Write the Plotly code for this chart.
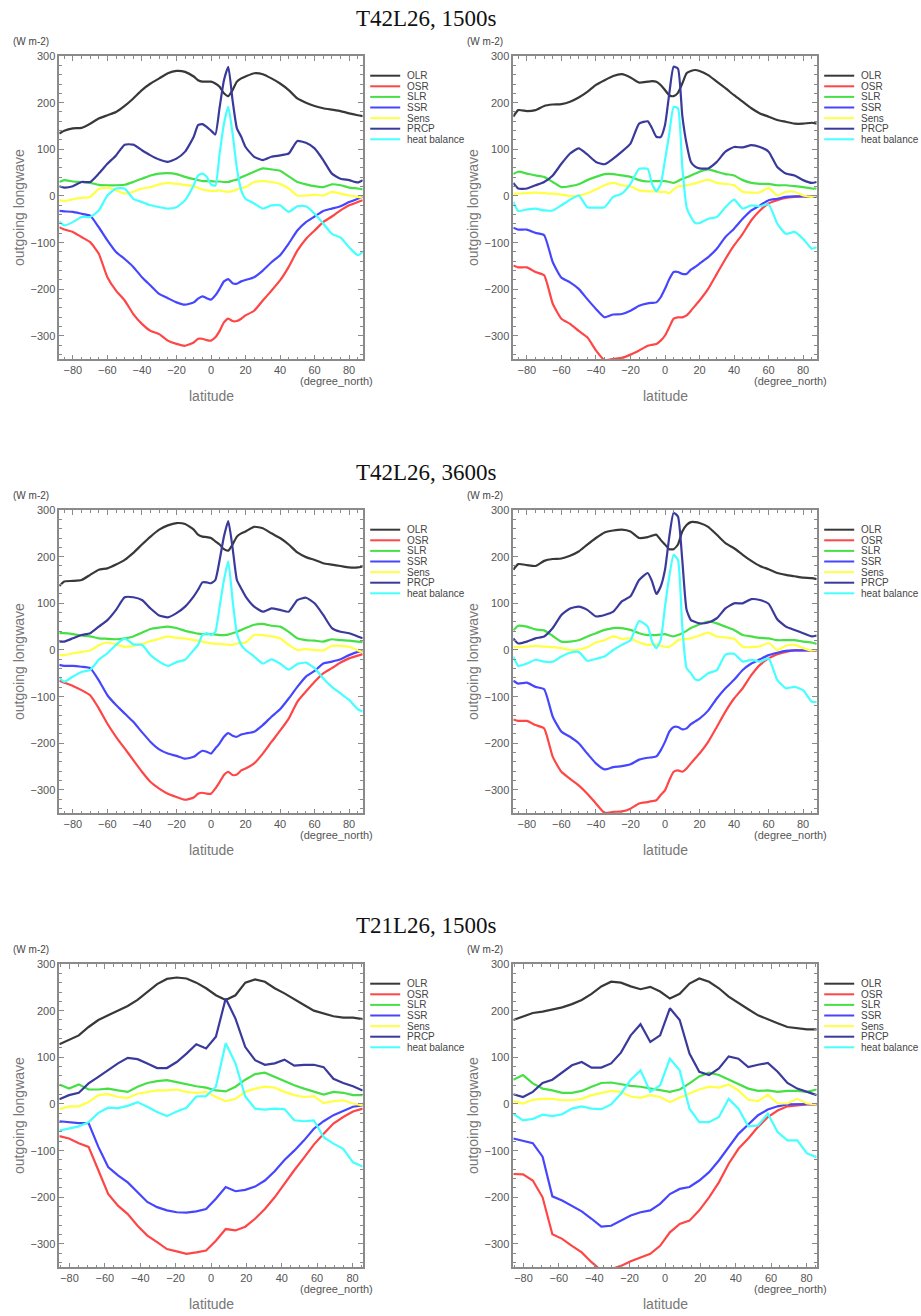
import plotly.graph_objects as go

# Latitude grids (degree_north)
lat_t42 = [-87.86, -85, -80, -75, -70, -65, -60, -55, -50, -45, -40, -35, -30, -25, -20,
           -15, -10, -7.5, -5, -2.5, 0, 2.5, 5, 7.5, 10, 12.5, 15, 17.5, 20, 25, 30, 35,
           40, 45, 50, 55, 60, 65, 70, 75, 80, 85, 87.86]
lat_t21 = [-85.76, -80.27, -74.74, -69.21, -63.68, -58.14, -52.61, -47.07, -41.53, -36.00,
           -30.46, -24.92, -19.38, -13.84, -8.31, -2.77, 2.77, 8.31, 13.84, 19.38, 24.92,
           30.46, 36.00, 41.53, 47.07, 52.61, 58.14, 63.68, 69.21, 74.74, 80.27, 85.76]

# ---- T42L26, 1500s (left) ----
olr_1 = [134, 140, 145, 146, 155, 166, 173, 180, 193, 209, 227, 241, 252, 263, 268, 266, 256, 248, 245, 245, 245, 241, 234, 220, 214, 227, 245, 252, 256, 263, 261, 252, 241, 227, 209, 200, 193, 188, 185, 182, 177, 173, 171]
osr_1 = [-67, -72, -77, -88, -99, -124, -174, -203, -224, -253, -274, -289, -296, -310, -317, -321, -314, -306, -306, -309, -310, -303, -289, -271, -263, -268, -268, -263, -256, -246, -224, -203, -181, -152, -117, -92, -74, -56, -44, -31, -20, -13, -9]
slr_1 = [30, 34, 31, 30, 28, 24, 23, 23, 24, 30, 37, 44, 48, 49, 47, 41, 36, 34, 32, 32, 32, 31, 31, 30, 30, 33, 35, 40, 44, 52, 59, 57, 54, 42, 30, 25, 21, 19, 25, 23, 18, 16, 14]
ssr_1 = [-32, -33, -34, -38, -42, -67, -95, -120, -135, -152, -174, -192, -210, -219, -228, -233, -228, -220, -215, -219, -222, -213, -199, -183, -178, -187, -188, -183, -180, -174, -160, -142, -127, -102, -74, -56, -44, -32, -27, -22, -13, -6, -2]
sens_1 = [-8, -11, -7, -4, -2, 15, 18, 12, 5, 9, 16, 19, 25, 28, 26, 24, 21, 17, 14, 12, 11, 11, 12, 10, 9, 11, 14, 17, 19, 30, 32, 30, 26, 16, 1, 1, 3, 1, 9, 5, 1, -2, -4]
prcp_1 = [21, 18, 21, 30, 30, 48, 69, 87, 110, 110, 98, 87, 78, 73, 80, 95, 127, 152, 154, 148, 140, 132, 190, 248, 277, 205, 145, 127, 105, 84, 77, 84, 87, 91, 118, 114, 102, 77, 48, 37, 34, 29, 34]
heat_1 = [-54, -63, -56, -45, -45, -31, 1, 16, 16, -6, -13, -20, -24, -27, -24, -9, 23, 44, 48, 41, 25, 22, 91, 155, 191, 134, 59, 12, -6, -16, -27, -20, -20, -34, -22, -22, -38, -59, -81, -89, -110, -127, -120]

# ---- T42L26, 1500s (right) ----
olr_2 = [170, 184, 182, 184, 193, 196, 197, 202, 211, 223, 238, 248, 257, 261, 254, 243, 245, 246, 245, 238, 227, 216, 214, 221, 241, 263, 268, 270, 268, 259, 245, 231, 216, 202, 188, 177, 170, 163, 159, 155, 155, 157, 155]
osr_2 = [-149, -153, -153, -163, -170, -231, -263, -274, -289, -303, -331, -352, -349, -347, -340, -331, -321, -319, -317, -310, -299, -281, -263, -260, -260, -256, -246, -235, -224, -199, -167, -135, -106, -81, -52, -31, -16, -9, -4, -2, -1, -1, -1]
slr_2 = [47, 52, 48, 44, 41, 30, 19, 21, 25, 34, 41, 47, 47, 44, 41, 34, 31, 32, 32, 32, 32, 30, 28, 32, 37, 40, 44, 48, 52, 57, 52, 47, 44, 34, 28, 26, 26, 23, 23, 21, 19, 16, 16]
ssr_2 = [-68, -72, -72, -79, -84, -142, -175, -185, -199, -221, -242, -260, -254, -253, -246, -235, -230, -229, -228, -217, -199, -178, -163, -163, -167, -167, -158, -152, -145, -131, -113, -88, -70, -49, -31, -20, -9, -6, -2, -1, -1, -2, -2]
sens_2 = [5, 5, 6, 7, 6, 5, 3, 0, 1, 6, 14, 23, 28, 23, 21, 12, 10, 10, 10, 9, 9, 6, 14, 21, 21, 23, 25, 27, 30, 35, 28, 26, 23, 9, 7, 8, 17, 1, 9, 9, 1, -2, 1]
prcp_2 = [28, 16, 16, 23, 30, 44, 69, 91, 102, 89, 73, 68, 80, 95, 112, 155, 160, 145, 127, 126, 152, 220, 277, 273, 173, 112, 73, 63, 59, 59, 73, 95, 105, 104, 109, 105, 95, 62, 48, 44, 34, 28, 30]
heat_2 = [-13, -32, -29, -27, -31, -31, -20, -8, 1, -24, -25, -24, -2, 5, 26, 58, 58, 26, 10, 25, 77, 134, 191, 188, 62, -24, -45, -58, -58, -49, -45, -24, -8, -27, -20, -22, -18, -59, -81, -77, -92, -113, -110]

# ---- T42L26, 3600s (left) ----
olr_3 = [137, 147, 148, 150, 161, 172, 175, 183, 193, 208, 226, 243, 258, 267, 272, 270, 258, 247, 243, 242, 240, 233, 226, 216, 213, 226, 243, 250, 254, 264, 261, 250, 240, 226, 209, 199, 193, 186, 183, 180, 177, 177, 179]
osr_3 = [-66, -70, -77, -86, -97, -125, -158, -186, -211, -236, -261, -283, -297, -308, -315, -321, -316, -308, -306, -308, -308, -297, -283, -268, -261, -268, -267, -258, -254, -243, -222, -197, -173, -147, -111, -89, -68, -50, -39, -27, -18, -12, -9]
slr_3 = [36, 36, 34, 31, 29, 25, 24, 23, 25, 29, 37, 45, 48, 50, 47, 41, 37, 35, 34, 34, 34, 33, 32, 32, 33, 36, 39, 43, 47, 54, 56, 52, 50, 39, 25, 21, 20, 18, 23, 21, 20, 18, 17]
ssr_3 = [-32, -34, -34, -36, -39, -65, -97, -118, -136, -154, -176, -197, -213, -222, -227, -233, -229, -222, -216, -218, -222, -211, -200, -186, -178, -184, -186, -181, -179, -175, -161, -143, -127, -104, -79, -57, -45, -29, -25, -20, -11, -4, -2]
sens_3 = [-11, -11, -7, -4, -1, 10, 16, 12, 7, 9, 13, 19, 24, 29, 26, 25, 21, 20, 18, 16, 14, 13, 13, 12, 11, 11, 14, 15, 16, 32, 32, 29, 25, 11, 0, 2, 0, -1, 9, 9, 7, -1, -4]
prcp_3 = [18, 18, 25, 32, 36, 50, 64, 86, 113, 113, 107, 89, 74, 70, 79, 93, 115, 129, 145, 145, 143, 150, 193, 243, 276, 219, 150, 132, 115, 93, 82, 89, 86, 82, 107, 112, 100, 75, 47, 39, 36, 29, 25]
heat_3 = [-59, -68, -57, -47, -43, -21, -7, 11, 25, 12, 11, -11, -25, -34, -26, -21, 0, 11, 32, 36, 32, 39, 93, 150, 190, 107, 36, 11, 0, -14, -29, -20, -29, -42, -30, -27, -39, -61, -79, -93, -107, -127, -132]

# ---- T42L26, 3600s (right) ----
olr_4 = [172, 184, 182, 180, 191, 195, 196, 202, 211, 226, 240, 252, 256, 258, 254, 240, 242, 245, 247, 236, 226, 216, 216, 226, 254, 268, 274, 274, 272, 264, 247, 229, 218, 204, 191, 180, 173, 165, 161, 158, 155, 154, 152]
osr_4 = [-149, -152, -152, -161, -168, -229, -261, -276, -290, -308, -329, -349, -347, -346, -340, -329, -326, -324, -322, -311, -301, -279, -261, -258, -261, -254, -243, -232, -222, -197, -165, -132, -104, -82, -54, -32, -18, -9, -4, -1, -1, -1, -1]
slr_4 = [42, 52, 50, 44, 42, 30, 18, 18, 21, 29, 36, 43, 47, 47, 43, 36, 32, 32, 32, 33, 34, 31, 29, 32, 36, 41, 47, 51, 55, 61, 57, 50, 43, 32, 29, 26, 25, 21, 21, 21, 18, 16, 13]
ssr_4 = [-66, -72, -70, -79, -84, -143, -175, -186, -200, -222, -243, -256, -251, -249, -245, -235, -231, -230, -228, -215, -197, -175, -165, -165, -170, -168, -159, -153, -147, -130, -104, -82, -64, -43, -29, -20, -11, -6, -2, -1, -1, -1, -1]
sens_4 = [6, 6, 7, 9, 7, 6, 4, 0, 1, 6, 16, 21, 29, 24, 25, 16, 11, 12, 12, 9, 7, 7, 13, 21, 23, 24, 25, 28, 31, 37, 29, 27, 24, 7, 6, 8, 15, 0, 9, 11, 4, -1, 0]
prcp_4 = [25, 14, 18, 25, 29, 47, 75, 89, 93, 86, 72, 75, 82, 104, 115, 150, 165, 147, 120, 136, 172, 243, 294, 286, 193, 86, 64, 60, 57, 59, 68, 89, 100, 100, 109, 107, 99, 66, 50, 43, 36, 29, 31]
heat_4 = [-14, -34, -29, -21, -25, -25, -14, -6, -4, -23, -19, -14, 0, 11, 21, 62, 50, 18, 4, 21, 93, 158, 204, 193, 50, -39, -50, -63, -64, -50, -43, -10, -8, -25, -21, -25, -18, -64, -82, -79, -86, -111, -111]

# ---- T21L26, 1500s (left) ----
olr_5 = [128, 138, 147, 165, 180, 190, 200, 210, 223, 241, 257, 268, 271, 269, 260, 248, 233, 223, 233, 260, 267, 262, 248, 237, 224, 212, 200, 194, 188, 185, 185, 182]
osr_5 = [-69, -74, -84, -92, -142, -193, -218, -236, -261, -282, -296, -311, -316, -321, -318, -314, -293, -268, -271, -263, -246, -225, -200, -170, -142, -115, -87, -64, -42, -28, -16, -10]
slr_5 = [42, 33, 42, 31, 31, 33, 29, 26, 37, 45, 49, 51, 47, 42, 38, 35, 29, 27, 37, 52, 64, 67, 58, 49, 40, 33, 27, 20, 26, 24, 19, 19]
ssr_5 = [-37, -39, -41, -41, -92, -135, -153, -168, -189, -210, -221, -228, -232, -233, -230, -225, -203, -178, -187, -184, -177, -164, -144, -120, -100, -78, -53, -37, -24, -15, -6, -3]
sens_5 = [-11, -5, -5, 4, 19, 21, 15, 13, 22, 26, 29, 29, 31, 26, 24, 26, 15, 6, 11, 26, 33, 37, 35, 26, 19, 15, 17, 2, 6, 8, 1, -3]
prcp_5 = [10, 19, 24, 44, 58, 72, 87, 99, 96, 87, 77, 77, 90, 108, 128, 119, 144, 226, 183, 122, 94, 84, 87, 95, 82, 84, 84, 79, 54, 45, 38, 29]
heat_5 = [-57, -53, -48, -39, -19, -8, -9, -4, 4, -6, -17, -26, -16, -8, 16, 17, 37, 130, 87, 16, -10, -12, -10, -11, -35, -37, -35, -71, -85, -96, -125, -134]

# ---- T21L26, 1500s (right) ----
olr_6 = [180, 187, 195, 198, 203, 207, 214, 223, 236, 252, 262, 260, 252, 246, 251, 241, 226, 236, 258, 269, 262, 248, 230, 216, 203, 190, 181, 173, 165, 162, 160, 160]
osr_6 = [-150, -151, -164, -200, -279, -289, -304, -318, -339, -357, -354, -347, -337, -329, -321, -304, -275, -257, -250, -228, -200, -168, -128, -96, -74, -49, -28, -14, -5, -3, -1, -1]
slr_6 = [52, 62, 44, 33, 29, 24, 24, 28, 37, 45, 46, 42, 39, 37, 33, 29, 26, 31, 44, 59, 67, 62, 52, 42, 33, 28, 29, 26, 28, 28, 26, 31]
ssr_6 = [-74, -79, -84, -113, -198, -207, -218, -230, -246, -263, -261, -250, -239, -232, -228, -214, -193, -182, -178, -164, -146, -121, -92, -64, -44, -24, -12, -5, -1, 0, 0, -1]
sens_6 = [6, 1, 9, 11, 11, 8, 8, 11, 19, 24, 28, 26, 16, 13, 19, 15, 4, 14, 22, 31, 37, 35, 42, 29, 9, 6, 20, 1, 1, 11, 1, -1]
prcp_6 = [21, 15, 26, 45, 52, 67, 83, 90, 78, 78, 87, 110, 147, 171, 133, 147, 205, 180, 108, 69, 62, 76, 102, 97, 79, 84, 88, 69, 45, 33, 26, 19]
heat_6 = [-21, -35, -32, -23, -26, -22, -10, -5, -10, -11, -1, 22, 52, 72, 26, 40, 97, 72, -10, -39, -39, -28, 11, -10, -48, -46, -21, -60, -78, -78, -106, -114]

series_names = ["OLR", "OSR", "SLR", "SSR", "Sens", "PRCP", "heat balance"]
series_colors = ["#383838", "#ff4646", "#46e046", "#4646ff", "#ffff46", "#3a3a9c", "#46ffff"]
row_titles = ["T42L26, 1500s", "T42L26, 3600s", "T21L26, 1500s"]

panels = [
    (lat_t42, [olr_1, osr_1, slr_1, ssr_1, sens_1, prcp_1, heat_1]),
    (lat_t42, [olr_2, osr_2, slr_2, ssr_2, sens_2, prcp_2, heat_2]),
    (lat_t42, [olr_3, osr_3, slr_3, ssr_3, sens_3, prcp_3, heat_3]),
    (lat_t42, [olr_4, osr_4, slr_4, ssr_4, sens_4, prcp_4, heat_4]),
    (lat_t21, [olr_5, osr_5, slr_5, ssr_5, sens_5, prcp_5, heat_5]),
    (lat_t21, [olr_6, osr_6, slr_6, ssr_6, sens_6, prcp_6, heat_6]),
]

W, H = 921, 1316
col_left = [59.3, 513.3]
row_top = [56, 510, 964]
box_w, box_h = 303.4, 303.3


def px(x):
    return x / W


def py(y):
    return 1 - y / H


def label(text, x, y, size, color="#555", **kw):
    d = dict(text=text, x=px(x), y=py(y), xref="paper", yref="paper", showarrow=False,
             xanchor="center", yanchor="middle", font=dict(size=size, color=color))
    d.update(kw)
    return d


fig = go.Figure()
layout = dict(
    width=W, height=H, margin=dict(l=0, r=0, t=0, b=0, autoexpand=False),
    paper_bgcolor="white", plot_bgcolor="white", showlegend=False,
    font=dict(family="Liberation Sans, Arial, sans-serif", color="#555"),
)
annotations = []
shapes = []

axis_common = dict(
    showline=True, linecolor="#8a8a8a", linewidth=1.5, mirror="ticks",
    ticks="inside", ticklen=5, tickcolor="#8a8a8a", tickwidth=1,
    showgrid=False, zeroline=False, automargin=False,
    tickfont=dict(size=11, color="#555", family="Liberation Sans, Arial, sans-serif"),
)

for i, (lats, vals) in enumerate(panels):
    r, c = divmod(i, 2)
    left, top = col_left[c], row_top[r]
    right, bottom = left + box_w, top + box_h
    k = i + 1
    xref = "x" if k == 1 else f"x{k}"
    yref = "y" if k == 1 else f"y{k}"
    smooth = lats is lat_t42

    for name, v, col in zip(series_names, vals, series_colors):
        line = dict(color=col, width=2.2)
        if smooth:
            line.update(shape="spline", smoothing=0.5)
        fig.add_trace(go.Scatter(x=lats, y=v, mode="lines", name=name, line=line,
                                 xaxis=xref, yaxis=yref, hoverinfo="skip"))

    lim = max(lats)
    layout["xaxis" if k == 1 else f"xaxis{k}"] = dict(
        axis_common, domain=[px(left), px(right)], anchor=yref,
        range=[-lim, lim], tickmode="array", tickvals=list(range(-80, 81, 20)),
        minor=dict(dtick=5, tick0=0, ticks="inside", ticklen=3, tickcolor="#8a8a8a"),
    )
    layout["yaxis" if k == 1 else f"yaxis{k}"] = dict(
        axis_common, domain=[py(bottom), py(top)], anchor=xref,
        range=[-350, 300], tickmode="array", tickvals=list(range(-300, 301, 100)),
        minor=dict(dtick=20, tick0=0, ticks="inside", ticklen=3, tickcolor="#8a8a8a"),
    )

    # unit label and axis titles
    annotations.append(label("(W m-2)", left - 28, top - 14.5, 10, "#444"))
    annotations.append(label("outgoing longwave", left - 41, (top + bottom) / 2, 14, "#777",
                             textangle=-90))
    annotations.append(label("latitude", (left + right) / 2, bottom + 37, 14, "#777"))
    annotations.append(label("(degree_north)", right - 26.5, bottom + 22, 11, "#555"))

    # legend block beside each panel
    for j, (name, col) in enumerate(zip(series_names, series_colors)):
        yy = top + 19.7 + j * 10.6
        shapes.append(dict(type="line", xref="paper", yref="paper",
                           x0=px(right + 7.5), x1=px(right + 37.5), y0=py(yy), y1=py(yy),
                           line=dict(color=col, width=2)))
        annotations.append(label(name, right + 42, yy, 10, "#444", xanchor="left"))

for r, t in enumerate(row_titles):
    d = label(t, 426.5, row_top[r] - 38, 23, "#111")
    d["font"]["family"] = "Liberation Serif, Times New Roman, serif"
    annotations.append(d)

layout["annotations"] = annotations
layout["shapes"] = shapes
fig.update_layout(**layout)
fig.write_html("out.html")
